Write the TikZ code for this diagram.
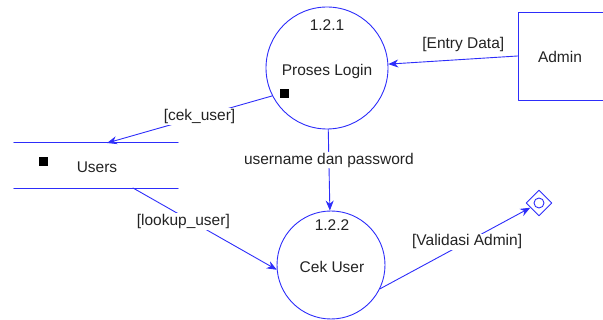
\documentclass[tikz,border=0pt]{standalone}
\usepackage{fontspec}
\setmainfont{Liberation Sans}
\usetikzlibrary{arrows.meta,shapes.geometric}
\definecolor{dfdblue}{RGB}{45,45,250}
\definecolor{dfdtext}{RGB}{35,35,35}
\begin{document}
\begin{tikzpicture}[x=1pt, y=-1pt, line join=round, line cap=round,
	font=\fontsize{15.5}{18}\selectfont, text=dfdtext,
	>={Stealth[length=10pt,width=8pt]},
	flow/.style={draw=dfdblue, line width=0.9pt},
	proc/.style={circle, draw=dfdblue, line width=0.9pt, inner sep=0pt},
	lbl/.style={fill=white, inner sep=1pt},
	blk/.style={fill=black, minimum size=9pt, inner sep=0pt}]
	\useasboundingbox (0,0) rectangle (603,320);
	% processes
	\node[proc, minimum size=122pt] (login) at (327,68) {};
	\node (loginno) at (327,25) {1.2.1};
	\node (loginname) at (327,71) {Proses Login};
	\node[blk] (loginmark) at (284,94) {};
	\node[proc, minimum size=108pt] (cek) at (331,265) {};
	\node (cekno) at (332,225) {1.2.2};
	\node (cekname) at (332,267) {Cek User};
	% external entity
	\node[draw=dfdblue, line width=0.9pt, minimum width=88pt, minimum height=88pt] (admin) at (562,56) {};
	\node (adminname) at (560,57) {Admin};
	% data store
	\node[minimum width=164pt, minimum height=45pt] (users) at (96,165.5) {};
	\draw[flow] (users.north west) -- (users.north east);
	\draw[flow] (users.south west) -- (users.south east);
	\node[blk] (usersmark) at (43,162) {};
	\node (usersname) at (97,167) {Users};
	% terminator
	\node[diamond, draw=dfdblue, line width=0.9pt, minimum size=26pt, inner sep=0pt] (term) at (539,203) {};
	\draw[dfdblue, line width=0.9pt] (term) circle (5pt);
	% flows
	\coordinate (cekuserend) at (107,143);
	\coordinate (lookupstart) at (133,188);
	\draw[flow,->] (admin.west) -- (login) node[pos=0.42, above=4pt] {[Entry Data]};
	\draw[flow,->] (login.207) -- (cekuserend) node[lbl, pos=0.44] {[cek\_user]};
	\draw[flow,->] (login) -- (cek) node[lbl, pos=0.38] {username dan password};
	\draw[flow,->] (lookupstart) -- (cek.185) node[lbl, pos=0.35, yshift=-5pt] {[lookup\_user]};
	\draw[flow,->] (cek.-26) -- (term) node[lbl, pos=0.58] {[Validasi Admin]};
\end{tikzpicture}
\end{document}
